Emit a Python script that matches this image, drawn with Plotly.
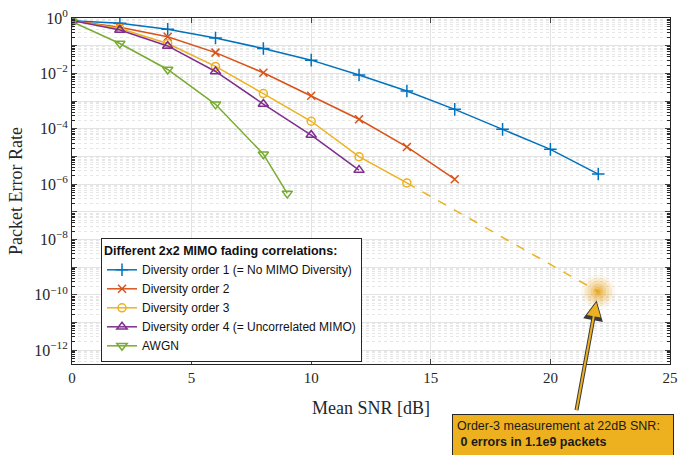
import plotly.graph_objects as go
import numpy as np

snr_even = [0, 2, 4, 6, 8, 10, 12, 14, 16, 18, 20, 22]
div1 = [0.79, 0.65, 0.39, 0.19, 0.079, 0.030, 8.7e-3, 2.3e-3, 5.0e-4, 9.5e-5, 1.8e-5, 2.3e-6]
div2 = [0.79, 0.46, 0.21, 0.056, 0.0105, 1.55e-3, 2.2e-4, 2.2e-5, 1.5e-6]
div3 = [0.79, 0.42, 0.12, 0.0178, 1.86e-3, 1.86e-4, 9.8e-6, 1.1e-6]
div4 = [0.81, 0.37, 0.098, 0.0117, 7.8e-4, 5.9e-5, 3.2e-6]
awgn_snr = [0, 2, 4, 6, 8, 9]
awgn = [0.74, 0.12, 0.0138, 7.6e-4, 1.2e-5, 4.6e-7]
meas_snr = 22
meas_per = 1.3e-10

names = ["Diversity order 1 (= No MIMO Diversity)", "Diversity order 2", "Diversity order 3",
         "Diversity order 4 (= Uncorrelated MIMO)", "AWGN"]
colors = ["#0072BD", "#D95319", "#EDB120", "#7E2F8E", "#77AC30"]
symbols = ["cross-thin-open", "x-thin-open", "circle-open", "triangle-up-open", "triangle-down-open"]
sizes = [9, 8, 8, 9, 9]
xs = [snr_even[:len(div1)], snr_even[:len(div2)], snr_even[:len(div3)], snr_even[:len(div4)], awgn_snr]
ys = [div1, div2, div3, div4, awgn]

fig = go.Figure()

# dashed extrapolation
fig.add_trace(go.Scatter(x=[xs[2][-1], meas_snr], y=[div3[-1], meas_per], mode="lines",
                         line=dict(color=colors[2], width=1.5, dash="dash"), showlegend=False,
                         hoverinfo="skip"))
# glow
for s, a in [(34, 0.08), (28, 0.12), (22, 0.16), (16, 0.22), (10, 0.35), (5, 0.5)]:
    fig.add_trace(go.Scatter(x=[meas_snr], y=[meas_per], mode="markers",
                             marker=dict(size=s, color="rgba(232,160,20,%g)" % a, line=dict(width=0)),
                             showlegend=False, hoverinfo="skip"))

for i in range(5):
    fig.add_trace(go.Scatter(x=xs[i], y=ys[i], mode="lines+markers", name=names[i],
                             line=dict(color=colors[i], width=1.5),
                             marker=dict(symbol=symbols[i], size=sizes[i], color=colors[i],
                                         line=dict(color=colors[i], width=1.5))))

dec = list(range(0, -13, -1))
ytickvals = [10.0 ** d for d in dec]
yticktext = ["10<sup>%s</sup>" % (str(d).replace("-", "−")) if d % 2 == 0 else "" for d in dec]
yminor = [m * 10.0 ** d for d in range(-13, 0) for m in range(2, 10)]

serif = "Liberation Serif"
fig.update_layout(
    width=678, height=455,
    margin=dict(l=72, r=8, t=18, b=91, autoexpand=False),
    paper_bgcolor="white", plot_bgcolor="white",
    font=dict(family=serif, size=15, color="#262626"),
    xaxis=dict(range=[0, 25], tickvals=[0, 5, 10, 15, 20, 25], ticks="inside", ticklen=5,
               showline=True, linecolor="#262626", linewidth=1, mirror="allticks", automargin=False,
               showgrid=True, gridcolor="#e3e3e3", gridwidth=1, zeroline=False,
               title=dict(text="Mean SNR [dB]", font=dict(family=serif, size=18), standoff=16),
               tickfont=dict(family=serif, size=15)),
    yaxis=dict(type="log", range=[-12.5, 0], tickmode="array", tickvals=ytickvals, ticktext=yticktext,
               ticks="inside", ticklen=5, showline=True, linecolor="#262626", linewidth=1,
               mirror="allticks", automargin=False, showgrid=True, gridcolor="#e3e3e3", gridwidth=1,
               zeroline=False,
               minor=dict(tickmode="array", tickvals=yminor, showgrid=True, gridcolor="#e6e6e6",
                          griddash="dot", ticks="inside", ticklen=3, tickcolor="#262626"),
               title=dict(text="Packet Error Rate", font=dict(family=serif, size=18), standoff=6),
               tickfont=dict(family=serif, size=16)),
    legend=dict(x=0.0485, y=0.364, xanchor="left", yanchor="top",
                bgcolor="white", bordercolor="#262626", borderwidth=1,
                font=dict(family="Liberation Sans", size=12, color="#111"),
                title=dict(text="<b>Different 2x2 MIMO fading correlations:</b>",
                           font=dict(family="Liberation Sans", size=12.5, color="#111")),
                itemwidth=30, tracegroupgap=0),
    showlegend=True,
)

# legend title separator
fig.add_shape(type="line", xref="paper", yref="paper",
              x0=(101 - 72) / 598, x1=(360 - 72) / 598,
              y0=1 - (256 - 18) / 346, y1=1 - (256 - 18) / 346,
              line=dict(color="#262626", width=1))

# arrow outline + arrow
fig.add_annotation(x=meas_snr, y=np.log10(meas_per), xref="x", yref="y", text="",
                   showarrow=True, ax=-22, ay=120, arrowhead=2, arrowwidth=4, arrowsize=1,
                   arrowcolor="#3a3a3a", standoff=9)
fig.add_annotation(x=meas_snr, y=np.log10(meas_per), xref="x", yref="y", text="",
                   showarrow=True, ax=-22, ay=120, arrowhead=2, arrowwidth=2, arrowsize=1.4,
                   arrowcolor="#EDB120", standoff=11)
# box
fig.add_annotation(x=(452 - 72) / 598, y=1 - (414 - 18) / 346, xref="paper", yref="paper",
                   xanchor="left", yanchor="top", showarrow=False, align="left",
                   text="Order-3 measurement at 22dB SNR:<br> <b>0 errors in 1.1e9 packets</b>",
                   font=dict(family="Liberation Sans", size=12.5, color="#1a1a1a"),
                   bgcolor="#EDB120", bordercolor="#262626", borderwidth=1, borderpad=4,
                   width=212, height=44, valign="top")

fig.write_html("out.html")
